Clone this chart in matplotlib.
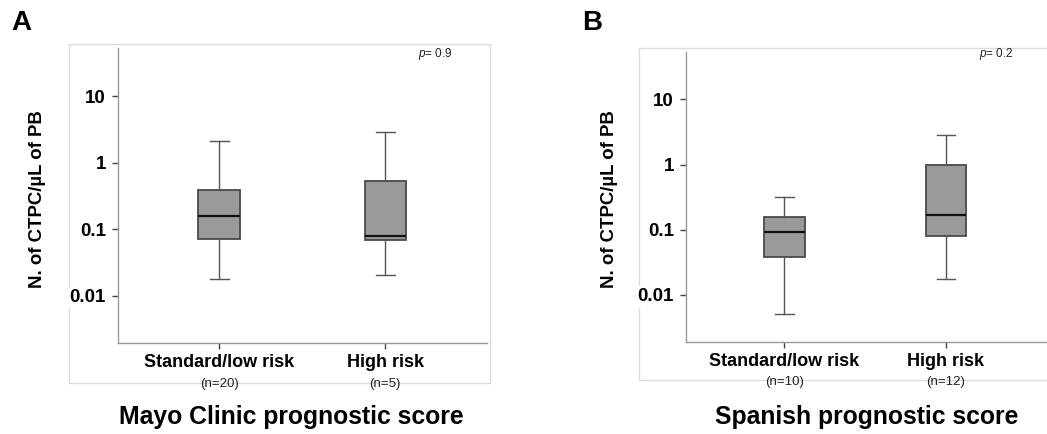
import matplotlib
matplotlib.use("Agg")
import matplotlib.pyplot as plt
from matplotlib.patches import Rectangle
from matplotlib.ticker import FixedLocator, NullLocator

plt.rcParams["font.family"] = ["Liberation Sans", "DejaVu Sans"]
plt.rcParams["mathtext.fontset"] = "custom"
plt.rcParams["mathtext.it"] = "Liberation Sans:italic"
plt.rcParams["mathtext.rm"] = "Liberation Sans"

# ── Data (log scale) ──────────────────────────────────────────────────
groups = ["Standard/low risk", "High risk"]

mayo_n = [20, 5]
mayo_whislo = [0.018, 0.0207]
mayo_q1 = [0.072, 0.068]
mayo_med = [0.16, 0.080]
mayo_q3 = [0.39, 0.53]
mayo_whishi = [2.12, 2.9]
mayo_p = "0.9"

spain_n = [10, 12]
spain_whislo = [0.0051, 0.0174]
spain_q1 = [0.038, 0.079]
spain_med = [0.092, 0.169]
spain_q3 = [0.155, 1.0]
spain_whishi = [0.315, 2.84]
spain_p = "0.2"

yticks = [0.01, 0.1, 1, 10]
ytick_labels = ["0.01", "0.1", "1", "10"]

FIG_W, FIG_H = 1047, 434
fig = plt.figure(figsize=(FIG_W / 100, FIG_H / 100), dpi=100, facecolor="white")


def fx(px):
    return px / FIG_W


def fy(py):
    return 1 - py / FIG_H


def draw_panel(rect, frame, xlim, ylim, lo, q1, med, q3, hi, ns, pval,
               letter, letter_xy, title, title_xy, ylab_x, p_x):
    # light gray frame around the panel
    x0, y0, x1, y1 = frame
    fig.patches.append(Rectangle((fx(x0), fy(y1)), fx(x1) - fx(x0), fy(y0) - fy(y1),
                                 transform=fig.transFigure, fill=False,
                                 edgecolor="#dcdcdc", linewidth=1.0, zorder=-1))

    ax = fig.add_axes(rect)
    ax.patch.set_alpha(0)
    stats = []
    for i in range(len(groups)):
        stats.append(dict(whislo=lo[i], q1=q1[i], med=med[i], q3=q3[i],
                          whishi=hi[i], fliers=[]))
    ax.bxp(stats, positions=[1, 2], widths=0.25, patch_artist=True,
           boxprops=dict(facecolor="#9a9a9a", edgecolor="#4a4a4a", linewidth=1.3),
           medianprops=dict(color="#111111", linewidth=1.6),
           whiskerprops=dict(color="#555555", linewidth=1.0),
           capprops=dict(color="#555555", linewidth=1.0),
           capwidths=0.115, showfliers=False)

    ax.set_yscale("log")
    ax.set_xlim(*xlim)
    ax.set_ylim(*ylim)
    ax.yaxis.set_major_locator(FixedLocator(yticks))
    ax.yaxis.set_minor_locator(NullLocator())
    ax.set_yticklabels(ytick_labels, fontsize=13.5, fontweight="bold")
    for t in ax.get_yticklabels():
        t.set_bbox(dict(facecolor="white", edgecolor="none", pad=1.5))
    ax.set_xticks([1, 2])
    ax.set_xticklabels([])
    ax.tick_params(axis="both", length=4.5, width=1.0, color="#444444", pad=4)

    for s in ["top", "right"]:
        ax.spines[s].set_visible(False)
    for s in ["left", "bottom"]:
        ax.spines[s].set_color("#999999")
        ax.spines[s].set_linewidth(1.0)

    for i, g in enumerate(groups):
        ax.text(i + 1, -0.067, g, transform=ax.get_xaxis_transform(),
                ha="center", va="center", fontsize=13, fontweight="bold")
        ax.text(i + 1, -0.14, f"(n={ns[i]})", transform=ax.get_xaxis_transform(),
                ha="center", va="center", fontsize=9.5, color="#222222")

    fig.text(fx(p_x), fy(54), f"$p$= {pval}", ha="left", va="center",
             fontsize=8.5, color="#222222")
    fig.text(fx(ylab_x), fy(199), "N. of CTPC/µL of PB", rotation=90,
             ha="center", va="center", fontsize=13.4, fontweight="bold")
    fig.text(fx(letter_xy[0]), fy(letter_xy[1]), letter, ha="left", va="center",
             fontsize=20, fontweight="bold")
    fig.text(fx(title_xy[0]), fy(title_xy[1]), title, ha="center", va="center",
             fontsize=17.8, fontweight="bold")
    return ax


draw_panel(rect=[fx(117.7), fy(342.7), fx(486.7) - fx(117.7), fy(48) - fy(342.7)],
           frame=(69, 44, 490, 383),
           xlim=(0.39, 2.61), ylim=(10 ** -2.707, 10 ** 1.726),
           lo=mayo_whislo, q1=mayo_q1, med=mayo_med, q3=mayo_q3, hi=mayo_whishi,
           ns=mayo_n, pval=mayo_p, letter="A", letter_xy=(11, 23),
           title="Mayo Clinic prognostic score", title_xy=(291, 417),
           ylab_x=38, p_x=418)

draw_panel(rect=[fx(685.7), fy(341.7), fx(1047) - fx(685.7), fy(52.3) - fy(341.7)],
           frame=(639.3, 48.3, 1047.5, 380),
           xlim=(0.39, 2.625), ylim=(10 ** -2.716, 10 ** 1.72),
           lo=spain_whislo, q1=spain_q1, med=spain_med, q3=spain_q3, hi=spain_whishi,
           ns=spain_n, pval=spain_p, letter="B", letter_xy=(582, 23),
           title="Spanish prognostic score", title_xy=(867, 417),
           ylab_x=609, p_x=979)

fig.savefig("out.png", dpi=100, facecolor="white")
